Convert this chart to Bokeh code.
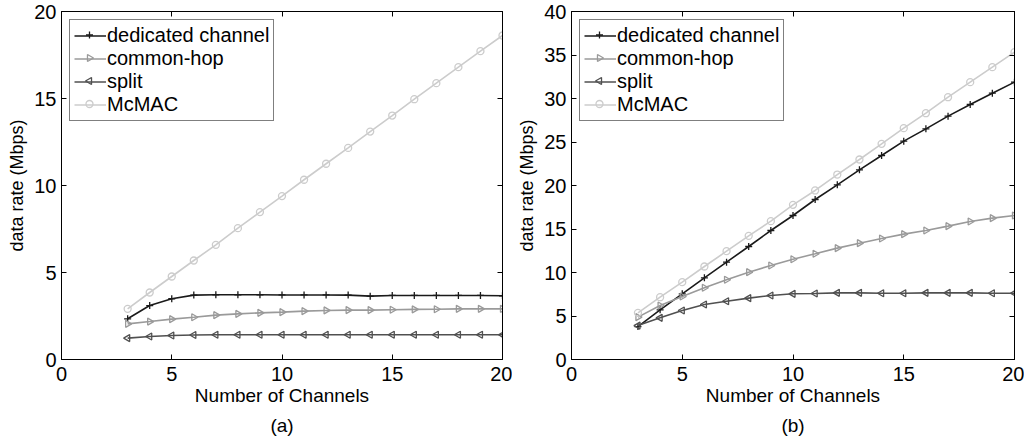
import math
from bokeh.plotting import figure
from bokeh.layouts import row
from bokeh.models import FixedTicker, LinearAxis, Title, Range1d, Legend, LegendItem
from bokeh.embed import file_html
from bokeh.resources import INLINE

channels = list(range(3, 21))

a_dedicated = [2.34, 3.10, 3.49, 3.70, 3.72, 3.72, 3.72, 3.71, 3.71, 3.71, 3.70, 3.64, 3.68, 3.68, 3.68, 3.68, 3.68, 3.66]
a_common = [2.05, 2.18, 2.32, 2.43, 2.55, 2.62, 2.68, 2.72, 2.78, 2.82, 2.84, 2.84, 2.86, 2.88, 2.89, 2.91, 2.91, 2.91]
a_split = [1.23, 1.32, 1.38, 1.41, 1.42, 1.42, 1.42, 1.42, 1.42, 1.42, 1.42, 1.42, 1.42, 1.42, 1.42, 1.42, 1.42, 1.42]
a_mcmac = [2.91, 3.85, 4.77, 5.69, 6.59, 7.55, 8.47, 9.39, 10.33, 11.25, 12.16, 13.10, 14.02, 14.96, 15.88, 16.80, 17.72, 18.62]

b_dedicated = [3.79, 5.71, 7.55, 9.39, 11.19, 12.99, 14.83, 16.55, 18.39, 20.08, 21.80, 23.45, 25.10, 26.51, 27.97, 29.31, 30.61, 31.88]
b_common = [4.87, 6.20, 7.24, 8.24, 9.16, 10.04, 10.80, 11.53, 12.15, 12.80, 13.37, 13.91, 14.41, 14.83, 15.33, 15.86, 16.25, 16.55]
b_split = [3.90, 4.79, 5.63, 6.32, 6.70, 7.05, 7.36, 7.55, 7.59, 7.66, 7.66, 7.62, 7.62, 7.66, 7.66, 7.66, 7.62, 7.62]
b_mcmac = [5.36, 7.16, 8.89, 10.69, 12.45, 14.21, 15.90, 17.78, 19.43, 21.26, 22.99, 24.79, 26.59, 28.31, 30.15, 31.88, 33.60, 35.33]

series_names = ["dedicated channel", "common-hop", "split", "McMAC"]
x_ticks = [0, 5, 10, 15, 20]
a_y_ticks = [0, 5, 10, 15, 20]
b_y_ticks = [0, 5, 10, 15, 20, 25, 30, 35, 40]

FONT = "Liberation Sans"
W, H = 512, 446
TOP, BOTTOM, RIGHT = 11, 87, 10

# legend layout (pixels)
LG_MARGIN, LG_PAD, LG_ROW, LG_GLYPH_W = 8, 4, 23, 32


def make_panel(caption, ymax, yticks, dedicated, common, split, mcmac, border_left):
    frame_w = W - border_left - RIGHT
    frame_h = H - TOP - BOTTOM
    p = figure(width=W, height=H, output_backend="svg", toolbar_location=None,
               x_range=Range1d(0, 20), y_range=Range1d(0, ymax),
               min_border_left=border_left, min_border_right=RIGHT,
               min_border_top=TOP, min_border_bottom=BOTTOM)
    p.extra_x_ranges = {"px": Range1d(0, frame_w)}
    p.extra_y_ranges = {"px": Range1d(0, frame_h)}
    p.grid.visible = False
    p.outline_line_color = "black"
    p.outline_line_width = 1

    p.xaxis.axis_label = "Number of Channels"
    p.yaxis.axis_label = "data rate (Mbps)"
    for ax in (p.xaxis[0], p.yaxis[0]):
        ax.axis_label_text_font = FONT
        ax.axis_label_text_font_style = "normal"
        ax.axis_label_text_color = "black"
        ax.major_label_text_font = FONT
        ax.major_label_text_font_size = "20px"
        ax.major_label_text_color = "black"
        ax.major_tick_in = 5
        ax.major_tick_out = 0
        ax.minor_tick_in = 0
        ax.minor_tick_out = 0
        ax.axis_line_color = "black"
        ax.major_tick_line_color = "black"
    p.xaxis.axis_label_text_font_size = "19px"
    p.yaxis.axis_label_text_font_size = "18px"
    p.xaxis.ticker = FixedTicker(ticks=x_ticks)
    p.yaxis.ticker = FixedTicker(ticks=yticks)
    p.xaxis.axis_label_standoff = 1
    p.xaxis.major_label_standoff = 7
    p.yaxis.axis_label_standoff = 4
    p.yaxis.major_label_standoff = 5

    for loc, tk in (("right", yticks), ("above", x_ticks)):
        ax = LinearAxis(ticker=FixedTicker(ticks=tk), major_label_text_font_size="0px",
                        major_tick_in=5, major_tick_out=0, minor_tick_in=0, minor_tick_out=0,
                        axis_line_color="black", major_label_standoff=0)
        p.add_layout(ax, loc)

    styles = [
        (dedicated, "#1a1a1a", "cross", 0.0, 7),
        (common, "#9a9a9a", "triangle", -math.pi / 2, 7),
        (split, "#505050", "triangle", math.pi / 2, 7),
        (mcmac, "#cccccc", "circle", 0.0, 7),
    ]
    items = []
    for i, (name, (ys, col, mk, ang, sz)) in enumerate(zip(series_names, styles)):
        ln = p.line(channels, ys, line_color=col, line_width=1.6)
        p.scatter(channels, ys, marker=mk, angle=ang, size=sz, line_color=col,
                  fill_color=None, line_width=1.3)
        items.append(LegendItem(label=name, renderers=[ln]))
        # legend sample marker (legend glyphs cannot be rotated, so draw it in pixel space)
        lx = LG_MARGIN + LG_PAD + LG_GLYPH_W / 2
        ly = frame_h - (LG_MARGIN + LG_PAD + LG_ROW * (i + 0.5))
        p.scatter([lx], [ly], marker=mk, angle=ang, size=sz, line_color=col,
                  fill_color=None, line_width=1.3, x_range_name="px", y_range_name="px")

    lg = Legend(items=items, location="top_left", margin=LG_MARGIN, padding=LG_PAD,
                spacing=0, label_text_font=FONT, label_text_font_size="20px",
                label_text_color="black", label_height=LG_ROW, glyph_height=LG_ROW,
                glyph_width=LG_GLYPH_W, label_standoff=1, border_line_color="black",
                border_line_width=1, background_fill_alpha=0.0)
    p.add_layout(lg, "center")

    p.add_layout(Title(text=caption, align="center", text_font=FONT,
                       text_font_size="19px", text_font_style="normal",
                       text_color="black", standoff=8), "below")
    return p


pa = make_panel("(a)", 20, a_y_ticks, a_dedicated, a_common, a_split, a_mcmac, 61)
pb = make_panel("(b)", 40, b_y_ticks, b_dedicated, b_common, b_split, b_mcmac, 59)

layout = row(pa, pb)
open("out.html", "w").write(file_html(layout, INLINE))
